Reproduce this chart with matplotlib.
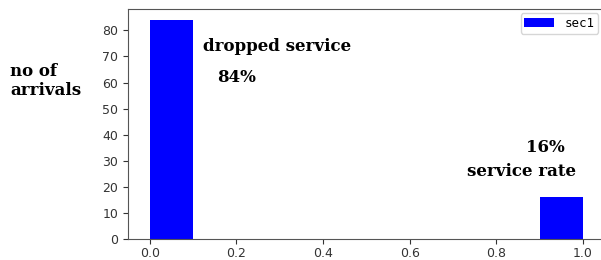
import matplotlib
matplotlib.use("Agg")
import matplotlib.pyplot as plt

bin_edges = [0.0, 0.1, 0.2, 0.3, 0.4, 0.5, 0.6, 0.7, 0.8, 0.9, 1.0]
counts = [84, 0, 0, 0, 0, 0, 0, 0, 0, 16]
series_label = "sec1"
ylabel_text = "no of\narrivals"
annotations = [
    ("dropped service", 0.122, 73.9),
    ("84%", 0.155, 62.0),
    ("16%", 0.868, 35.2),
    ("service rate", 0.732, 26.0),
]

fig = plt.figure(figsize=(6.01, 2.6), dpi=100)
R = 620
ax = fig.add_axes([128 / 601, 1 - 239 / 260, (R - 128) / 601, (239 - 9) / 260])
ax.hist(bin_edges[:-1], bins=bin_edges, weights=counts, color="blue", label=series_label)
ax.set_xlim(-0.05, 1.0 + (R - 583) / 433)
ax.set_ylim(0, 88.2)
ax.set_yticks([0, 10, 20, 30, 40, 50, 60, 70, 80])
ax.set_xticks([0.0, 0.2, 0.4, 0.6, 0.8, 1.0])
ax.tick_params(labelsize=9, colors="#333333")
ax.tick_params(axis="x", pad=2)
for s in ax.spines.values():
    s.set_color("#555555")
ax.spines["right"].set_visible(False)

serif = ["DejaVu Serif"]
for txt, x, y in annotations:
    ax.text(x, y, txt, fontsize=12, fontweight="bold", family=serif, va="center", ha="left")

fig.text(10 / 601, 1 - 81 / 260, ylabel_text, fontsize=12, fontweight="bold", family=serif,
         va="center", ha="left", linespacing=1.15)

leg = ax.legend(loc="upper right", bbox_to_anchor=((598 - 128) / (R - 128), 1 - (13 - 9) / 230),
                borderaxespad=0, borderpad=0.3, handlelength=2.4,
                prop={"family": "DejaVu Sans Mono", "size": 9}, fancybox=True)
fig.savefig("out.png", dpi=100)
